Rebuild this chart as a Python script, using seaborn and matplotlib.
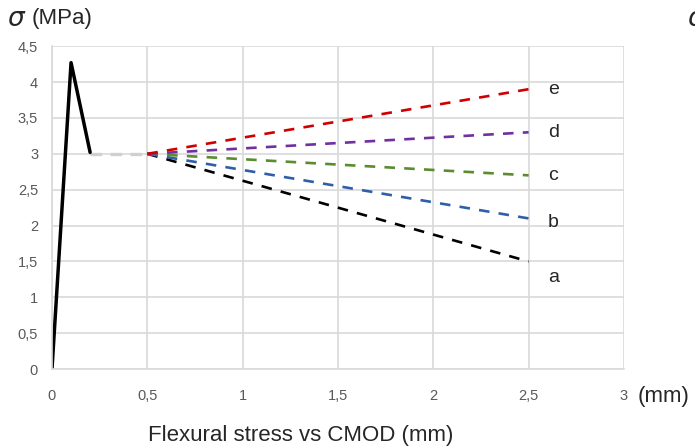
import numpy as np
import pandas as pd
import matplotlib
matplotlib.use('Agg')
import matplotlib.pyplot as plt
import seaborn as sns

# 데이터: 균열 전 구간 + 연화 구간
pre_x = [0.0, 0.1, 0.2]
pre_y = [0.0, 4.27, 3.02]
plateau_x = [0.2, 0.5]
plateau_y = [3.0, 3.0]

curve_names = ['a', 'b', 'c', 'd', 'e']
curve_x = [0.5, 2.5]
curve_end = [1.5, 2.1, 2.7, 3.3, 3.9]
curve_start = 3.0
curve_colors = ['#000000', '#2e5fa8', '#5b8c2f', '#7030a0', '#d00000']

x_ticks = [0, 0.5, 1, 1.5, 2, 2.5, 3]
x_tick_labels = ['0', '0,5', '1', '1,5', '2', '2,5', '3']
y_ticks = [0, 0.5, 1, 1.5, 2, 2.5, 3, 3.5, 4, 4.5]
y_tick_labels = ['0', '0,5', '1', '1,5', '2', '2,5', '3', '3,5', '4', '4,5']

sns.set_style('white')
plt.rcParams['font.family'] = ['Liberation Sans', 'DejaVu Sans']

fig = plt.figure(figsize=(6.95, 4.48), dpi=100)
ax = fig.add_axes([0.0748, 0.176, 0.823, 0.721])

rows = []
for name, end in zip(curve_names, curve_end):
    rows.append({'x': curve_x[0], 'y': curve_start, 'curve': name})
    rows.append({'x': curve_x[1], 'y': end, 'curve': name})
df = pd.DataFrame(rows)

sns.lineplot(x=plateau_x, y=plateau_y, ax=ax, color='#d0d0d0', lw=2.4,
             linestyle=(0, (3.5, 2.5)), sort=False)
sns.lineplot(data=df, x='x', y='y', hue='curve', palette=curve_colors, ax=ax,
             lw=1.9, linestyle=(0, (4, 3.5)), legend=False)
sns.lineplot(x=pre_x, y=pre_y, ax=ax, color='black', lw=2.5, sort=False)

for name, end in zip(curve_names, curve_end):
    off = -0.22 if name == 'a' else (-0.05 if name == 'b' else 0.0)
    ax.text(2.6, end + off, name, fontsize=14, va='center', ha='left')

ax.set_xlim(0, 3)
ax.set_ylim(0, 4.5)
ax.set_xticks(x_ticks)
ax.set_xticklabels(x_tick_labels)
ax.set_yticks(y_ticks)
ax.set_yticklabels(y_tick_labels)
ax.tick_params(axis='both', colors='#595959', labelsize=10.5, length=0)
ax.tick_params(axis='x', pad=14)
ax.tick_params(axis='y', pad=10)
ax.grid(True, color='#d9d9d9', lw=1.2)
ax.set_axisbelow(True)
for side in ['top', 'right']:
    ax.spines[side].set_visible(False)
for side in ['left', 'bottom']:
    ax.spines[side].set_color('#d9d9d9')
    ax.spines[side].set_linewidth(1.2)
ax.set_xlabel('')
ax.set_ylabel('')

fig.text(0.010, 0.958, r'$\sigma$', fontsize=19, va='center', ha='left')
fig.text(0.045, 0.958, '(MPa)', fontsize=16, va='center', ha='left')
fig.text(0.988, 0.958, r'$\sigma$', fontsize=19, va='center', ha='left')
fig.text(0.918, 0.114, '(mm)', fontsize=16, va='center', ha='left')
fig.text(0.433, 0.029, 'Flexural stress vs CMOD (mm)', fontsize=16, va='center', ha='center')

fig.savefig('out.png', dpi=100)
